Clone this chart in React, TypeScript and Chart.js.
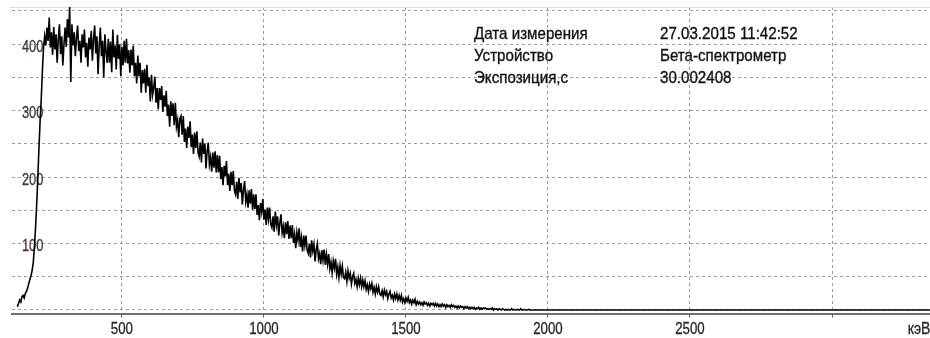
import React, { useEffect, useRef } from 'react';
import { Chart, registerables } from 'chart.js';

Chart.register(...registerables);

// Spectrum: counts per channel; channel energy = start + index * width (keV)
const CHANNEL_START_KEV = 132;
const CHANNEL_WIDTH_KEV = 4;
const COUNTS = [
  5, 10, 15, 12, 20, 22, 18, 25, 28, 33, 40, 46, 52, 60, 72, 95,
  125, 160, 200, 245, 285, 318, 360, 395, 412, 398, 425, 405, 440, 395, 418, 384,
  426, 392, 415, 372, 408, 430, 385, 412, 368, 400, 425, 396, 438, 410, 456, 343,
  430, 398, 418, 382, 410, 428, 390, 405, 372, 415, 395, 422, 380, 402, 366, 410,
  392, 420, 375, 408, 428, 386, 412, 355, 398, 425, 382, 405, 350, 415, 390, 372,
  408, 372, 404, 358, 422, 380, 398, 362, 414, 378, 400, 352, 396, 368, 405, 372,
  408, 371, 391, 357, 392, 368, 398, 352, 372, 341, 383, 352, 372, 327, 361, 341,
  363, 327, 369, 337, 350, 314, 354, 324, 335, 351, 312, 334, 302, 334, 316, 337,
  298, 323, 306, 330, 292, 309, 276, 314, 292, 311, 278, 312, 276, 286, 260, 288,
  292, 264, 292, 253, 273, 244, 276, 259, 284, 245, 264, 235, 267, 244, 269, 237,
  231, 252, 222, 258, 235, 250, 213, 239, 252, 219, 230, 208, 237, 214, 239, 207,
  233, 207, 232, 197, 215, 188, 217, 201, 224, 188, 205, 179, 208, 188, 209, 180,
  174, 193, 167, 199, 177, 191, 159, 181, 194, 163, 174, 154, 180, 160, 182, 151,
  174, 152, 174, 143, 158, 135, 161, 148, 167, 136, 151, 128, 154, 137, 154, 129,
  124, 141, 118, 148, 128, 141, 112, 131, 144, 116, 126, 108, 132, 114, 134, 107,
  127, 108, 128, 101, 114, 93, 117, 105, 123, 95, 109, 88, 112, 97, 112, 90,
  85, 100, 79, 105, 89, 99, 73, 91, 100, 77, 85, 69, 90, 75, 91, 68,
  84, 69, 84, 62, 72, 56, 74, 63, 77, 54, 65, 49, 67, 54, 66, 49,
  47, 57, 43, 59, 48, 55, 39, 50, 55, 40, 46, 35, 48, 38, 48, 35,
  45, 35, 44, 31, 38, 28, 39, 32, 40, 27, 34, 24, 35, 27, 35, 24,
  22, 29, 20, 30, 23, 28, 17, 24, 28, 18, 22, 15, 24, 17, 24, 15,
  22, 15, 22, 12, 17, 11, 18, 13, 19, 11, 15, 9, 15, 11, 16, 8,
  13, 9, 12, 8, 11, 7, 12, 9, 11, 7, 10, 6, 10, 8, 10, 6,
  10, 6, 9, 5, 8, 5, 9, 6, 8, 4, 8, 5, 7, 4, 8, 5,
  7, 4, 6, 3, 6, 3, 6, 4, 5, 2, 5, 3, 5, 2, 4, 2,
  4, 2, 4, 1, 3, 2, 4, 1, 3, 1, 3, 2, 3, 1, 2, 1,
  2, 1, 3, 0, 2, 1, 2, 0, 2, 1, 0, 2, 1, 0, 1, 0,
  1, 0, 0, 2, 0, 1, 0, 0, 1, 0, 0, 2, 0, 0, 1, 0,
  0, 0, 1, 0, 0,
];
const TAIL_KEV = [1944, 3400];
const TAIL_COUNTS = [0, 0];

const X_MIN_KEV = 113;
const X_MAX_KEV = 3345;
const X_TICKS_KEV = [500, 1000, 1500, 2000, 2500, 3000];
const X_TICK_LABELS = ['500', '1000', '1500', '2000', '2500', ''];
const X_UNIT = 'кэВ';

const Y_MIN = -5.27;
const Y_MAX = 456;
const Y_TICKS = [0, 50, 100, 150, 200, 250, 300, 350, 400, 450];
const Y_TICK_LABELS = ['', '', '100', '', '200', '', '300', '', '400', ''];

const INFO_LABELS = ['Дата измерения', 'Устройство', 'Экспозиция,с'];
const INFO_VALUES = ['27.03.2015 11:42:52', 'Бета-спектрометр', '30.002408'];

const FONT = "'Liberation Sans', Arial, sans-serif";

function drawNarrow(ctx: CanvasRenderingContext2D, text: string, x: number, y: number, sx: number, size: number, align: CanvasTextAlign, color: string, bold = 0) {
  ctx.save();
  ctx.translate(x, y);
  ctx.scale(sx, 1);
  ctx.font = `${size}px ${FONT}`;
  ctx.fillStyle = color;
  ctx.textAlign = align;
  ctx.textBaseline = 'middle';
  ctx.fillText(text, 0, 0);
  if (bold) {
    ctx.strokeStyle = color;
    ctx.lineWidth = bold;
    ctx.strokeText(text, 0, 0);
  }
  ctx.restore();
}

const overlayPlugin = {
  id: 'overlay',
  beforeDatasetsDraw(chart: any) {
    const { ctx, chartArea } = chart;
    ctx.save();
    ctx.strokeStyle = '#dedede';
    ctx.lineWidth = 1;
    ctx.beginPath();
    ctx.moveTo(chartArea.left - 2, chartArea.top + 0.5);
    ctx.lineTo(chartArea.right, chartArea.top + 0.5);
    ctx.stroke();
    ctx.restore();
    // y tick labels (inside the plot, under the trace)
    const ys = chart.scales.y;
    ys.ticks.forEach((t: any) => {
      const i = Y_TICKS.indexOf(t.value);
      const label = i >= 0 ? Y_TICK_LABELS[i] : '';
      if (label) drawNarrow(ctx, label, chartArea.left + 10, ys.getPixelForValue(t.value) + 3, 0.8, 16, 'left', '#4a3436', 0.3);
    });
  },
  afterDraw(chart: any) {
    const { ctx, chartArea } = chart;
    const xs = chart.scales.x;
    xs.ticks.forEach((t: any) => {
      const i = X_TICKS_KEV.indexOf(t.value);
      const label = i >= 0 ? X_TICK_LABELS[i] : '';
      if (label) drawNarrow(ctx, label, xs.getPixelForValue(t.value), chartArea.bottom + 16, 0.78, 17, 'center', '#262626', 0.3);
    });
    drawNarrow(ctx, X_UNIT, chartArea.right - 11, chartArea.bottom + 16, 0.82, 17, 'center', '#262626', 0.3);
    INFO_LABELS.forEach((t, i) => drawNarrow(ctx, t, 474, 34 + i * 22.3, 0.89, 17, 'left', '#111', 0.35));
    INFO_VALUES.forEach((t, i) => drawNarrow(ctx, t, 660, 34 + i * 22.3, 0.89, 17, 'left', '#111', 0.35));
  },
};

export default function App() {
  const ref = useRef<HTMLCanvasElement>(null);

  useEffect(() => {
    if (!ref.current) return;
    const points = COUNTS.map((c, i) => ({ x: CHANNEL_START_KEV + i * CHANNEL_WIDTH_KEV, y: c }));
    TAIL_KEV.forEach((k, i) => points.push({ x: k, y: TAIL_COUNTS[i] }));

    const chart = new Chart(ref.current, {
      type: 'line',
      data: {
        datasets: [
          {
            data: points,
            borderColor: '#000',
            borderWidth: 1.6,
            pointRadius: 0,
            tension: 0,
            fill: false,
          },
        ],
      },
      options: {
        responsive: false,
        animation: false,
        events: [],
        layout: { padding: { top: 7, left: 0, right: 0, bottom: 0 } },
        plugins: { legend: { display: false }, tooltip: { enabled: false } },
        scales: {
          x: {
            type: 'linear',
            min: X_MIN_KEV,
            max: X_MAX_KEV,
            afterBuildTicks: (s: any) => {
              s.ticks = X_TICKS_KEV.map((v) => ({ value: v }));
            },
            afterFit: (s: any) => {
              s.height = 24.5;
            },
            ticks: { display: false },
            grid: {
              color: '#9a9a9a',
              lineWidth: 1,
              drawTicks: true,
              tickLength: 4,
              tickColor: '#555',
              tickBorderDash: [],
            },
            border: { display: true, color: '#707070', width: 2, dash: [3, 3] },
          },
          y: {
            type: 'linear',
            min: Y_MIN,
            max: Y_MAX,
            afterBuildTicks: (s: any) => {
              s.ticks = Y_TICKS.map((v) => ({ value: v }));
            },
            afterFit: (s: any) => {
              s.width = 12;
            },
            ticks: { display: false },
            grid: { color: '#9a9a9a', lineWidth: 1, drawTicks: false },
            border: { display: false, dash: [3, 3] },
          },
        },
      },
      plugins: [overlayPlugin],
    } as any);

    return () => chart.destroy();
  }, []);

  return (
    <div style={{ position: 'absolute', left: 0, top: 0, width: 930, height: 338, overflow: 'hidden', background: '#fff' }}>
      <canvas ref={ref} width={930} height={338} style={{ display: 'block' }} />
    </div>
  );
}
